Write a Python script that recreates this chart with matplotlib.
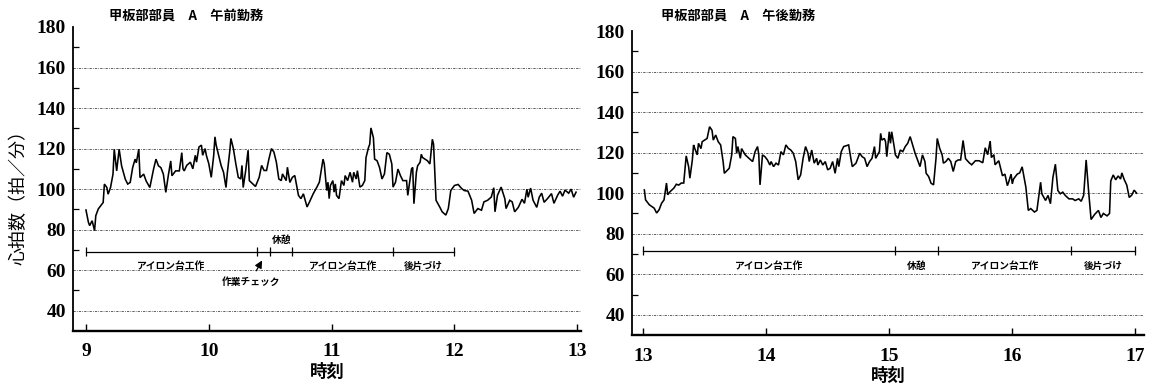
import matplotlib
matplotlib.use("Agg")
import matplotlib.pyplot as plt
from matplotlib.ticker import FixedLocator

plt.rcParams['font.family'] = ['Noto Sans CJK JP', 'DejaVu Sans']

# ---- heart rate, morning shift (hour of day, beats/min) ----
am_time = [9.00, 9.02, 9.03, 9.05, 9.07, 9.08, 9.10, 9.13, 9.14, 9.15, 9.17, 9.18,
           9.20, 9.22, 9.23, 9.25, 9.27, 9.29, 9.32, 9.34, 9.36, 9.38, 9.40, 9.41,
           9.43, 9.44, 9.47, 9.49, 9.52, 9.55, 9.57, 9.59, 9.61, 9.63, 9.65, 9.67,
           9.69, 9.70, 9.73, 9.76, 9.78, 9.79, 9.80, 9.82, 9.85, 9.87, 9.89, 9.90,
           9.92, 9.94, 9.95, 9.97, 9.98, 10.00, 10.02, 10.04, 10.05, 10.06, 10.08, 10.10,
           10.12, 10.14, 10.15, 10.17, 10.18, 10.20, 10.22, 10.24, 10.26, 10.27, 10.28, 10.30,
           10.32, 10.33, 10.36, 10.38, 10.41, 10.43, 10.45, 10.47, 10.49, 10.51, 10.53, 10.55,
           10.57, 10.59, 10.60, 10.63, 10.64, 10.66, 10.68, 10.70, 10.73, 10.75, 10.77, 10.80,
           10.82, 10.85, 10.88, 10.90, 10.93, 10.94, 10.96, 10.97, 10.98, 10.99, 11.01, 11.02,
           11.03, 11.04, 11.06, 11.08, 11.10, 11.11, 11.13, 11.15, 11.17, 11.18, 11.20, 11.21,
           11.23, 11.25, 11.27, 11.28, 11.30, 11.31, 11.32, 11.34, 11.35, 11.37, 11.39, 11.41,
           11.43, 11.45, 11.47, 11.49, 11.50, 11.52, 11.54, 11.56, 11.58, 11.61, 11.62, 11.65,
           11.66, 11.67, 11.69, 11.70, 11.72, 11.73, 11.74, 11.78, 11.80, 11.82, 11.83, 11.84,
           11.85, 11.88, 11.90, 11.93, 11.95, 11.97, 12.00, 12.03, 12.06, 12.08, 12.11, 12.14,
           12.16, 12.19, 12.22, 12.24, 12.27, 12.30, 12.32, 12.33, 12.35, 12.38, 12.41, 12.42,
           12.45, 12.47, 12.49, 12.52, 12.55, 12.57, 12.59, 12.60, 12.62, 12.64, 12.67, 12.69,
           12.71, 12.73, 12.76, 12.79, 12.81, 12.84, 12.86, 12.88, 12.90, 12.93, 12.95, 12.97,
           12.99]
am_rate = [89.7, 83.6, 82.0, 84.4, 79.5, 86.9, 90.2, 92.6, 93.4, 102.5, 100.8, 97.5,
           100.8, 107.4, 119.7, 109.0, 119.7, 111.5, 104.9, 102.5, 103.3, 110.6, 114.8, 113.0,
           119.7, 105.7, 107.4, 104.0, 100.8, 109.8, 114.8, 111.5, 110.6, 107.4, 98.4, 106.6,
           113.9, 106.6, 109.0, 109.0, 118.0, 110.0, 109.0, 111.7, 113.3, 110.0, 116.7, 113.3,
           120.8, 121.7, 116.7, 120.0, 116.7, 112.5, 105.8, 116.7, 125.8, 121.7, 116.7, 111.7,
           108.3, 100.8, 107.5, 118.3, 125.0, 120.0, 112.5, 105.8, 105.0, 111.7, 100.8, 109.0,
           119.2, 104.2, 102.5, 101.3, 105.8, 111.7, 109.2, 109.2, 115.0, 120.0, 118.3, 113.3,
           105.0, 104.2, 107.5, 104.2, 110.8, 103.3, 105.8, 106.7, 96.9, 95.3, 97.7, 91.2,
           93.7, 97.7, 101.0, 103.4, 114.8, 112.4, 99.3, 103.4, 95.3, 101.8, 104.2, 98.5,
           102.6, 96.9, 95.3, 104.2, 101.8, 106.7, 104.2, 108.3, 103.4, 108.3, 105.0, 109.1,
           101.0, 101.8, 104.2, 115.6, 120.5, 122.1, 130.2, 125.4, 114.8, 114.0, 110.7, 105.0,
           107.5, 118.0, 117.2, 112.4, 101.0, 103.4, 109.9, 106.7, 104.2, 104.2, 96.9, 109.9,
           110.7, 92.8, 108.3, 111.5, 113.2, 117.2, 115.6, 114.0, 112.4, 124.6, 122.1, 108.3,
           94.5, 91.2, 88.8, 87.2, 90.4, 99.3, 101.8, 102.3, 100.2, 99.3, 99.0, 94.5,
           88.0, 90.4, 89.6, 93.7, 94.5, 96.1, 100.7, 88.8, 96.9, 101.0, 95.3, 90.4,
           94.5, 93.7, 88.8, 91.0, 95.0, 93.0, 100.0, 96.0, 100.5, 94.5, 91.0, 96.0,
           98.0, 93.5, 95.5, 97.8, 93.0, 97.0, 99.0, 96.5, 99.5, 98.0, 100.0, 96.0,
           98.5]

# ---- heart rate, afternoon shift ----
pm_time = [13.01, 13.02, 13.05, 13.09, 13.11, 13.13, 13.15, 13.17, 13.19, 13.20, 13.22, 13.25,
           13.27, 13.29, 13.31, 13.33, 13.35, 13.37, 13.38, 13.40, 13.41, 13.42, 13.44, 13.45,
           13.47, 13.48, 13.50, 13.52, 13.54, 13.56, 13.57, 13.59, 13.61, 13.63, 13.65, 13.66,
           13.70, 13.72, 13.73, 13.75, 13.76, 13.77, 13.79, 13.80, 13.83, 13.86, 13.89, 13.91,
           13.93, 13.94, 13.95, 13.97, 13.99, 14.01, 14.03, 14.04, 14.06, 14.08, 14.10, 14.12,
           14.14, 14.16, 14.18, 14.20, 14.22, 14.24, 14.26, 14.28, 14.30, 14.32, 14.34, 14.35,
           14.37, 14.39, 14.41, 14.42, 14.44, 14.46, 14.48, 14.50, 14.52, 14.54, 14.56, 14.58,
           14.59, 14.61, 14.63, 14.67, 14.69, 14.70, 14.73, 14.76, 14.78, 14.80, 14.82, 14.84,
           14.86, 14.88, 14.89, 14.92, 14.93, 14.94, 14.96, 14.97, 14.98, 15.00, 15.01, 15.02,
           15.04, 15.05, 15.07, 15.09, 15.11, 15.13, 15.15, 15.17, 15.19, 15.21, 15.23, 15.25,
           15.27, 15.29, 15.30, 15.32, 15.34, 15.36, 15.38, 15.39, 15.41, 15.43, 15.44, 15.46,
           15.48, 15.50, 15.52, 15.54, 15.56, 15.58, 15.60, 15.62, 15.65, 15.67, 15.70, 15.73,
           15.76, 15.78, 15.80, 15.82, 15.83, 15.85, 15.86, 15.89, 15.92, 15.94, 15.96, 15.97,
           15.99, 16.00, 16.01, 16.04, 16.06, 16.08, 16.11, 16.13, 16.15, 16.18, 16.20, 16.23,
           16.24, 16.27, 16.29, 16.31, 16.33, 16.35, 16.37, 16.39, 16.41, 16.43, 16.46, 16.49,
           16.51, 16.54, 16.56, 16.58, 16.60, 16.62, 16.64, 16.67, 16.70, 16.72, 16.74, 16.77,
           16.79, 16.80, 16.82, 16.84, 16.86, 16.88, 16.89, 16.91, 16.93, 16.95, 16.97, 16.99,
           17.01]
pm_rate = [101.6, 96.7, 94.3, 92.6, 90.2, 91.8, 95.0, 96.7, 105.0, 99.2, 100.8, 102.5,
           104.4, 104.0, 105.0, 105.0, 118.4, 113.0, 107.4, 116.4, 123.8, 122.0, 118.9, 124.6,
           122.0, 125.4, 126.2, 127.0, 132.8, 131.0, 126.2, 128.7, 125.4, 123.8, 115.6, 109.8,
           112.3, 118.9, 127.9, 127.0, 119.7, 123.0, 117.2, 122.0, 118.9, 117.2, 115.6, 120.5,
           123.0, 118.9, 104.1, 118.9, 118.0, 116.4, 113.9, 115.6, 113.1, 114.8, 113.9, 120.5,
           118.9, 123.8, 122.1, 121.3, 119.7, 115.6, 106.6, 109.0, 117.2, 123.0, 119.7, 115.6,
           121.3, 114.8, 117.2, 113.9, 116.4, 113.9, 115.6, 111.5, 112.3, 115.6, 109.8, 117.2,
           113.1, 120.5, 123.0, 123.8, 116.4, 113.1, 114.8, 119.7, 118.0, 117.2, 113.1, 115.6,
           117.2, 123.0, 117.2, 120.5, 129.5, 126.2, 127.0, 125.4, 118.0, 130.3, 124.6, 130.3,
           123.0, 118.9, 117.2, 121.3, 120.5, 123.0, 124.6, 127.9, 123.8, 119.7, 116.4, 113.1,
           118.9, 115.6, 109.8, 108.2, 104.9, 104.1, 117.2, 127.0, 122.1, 118.9, 114.8, 115.6,
           117.2, 115.6, 110.7, 115.6, 116.4, 116.4, 126.0, 117.0, 115.0, 114.0, 116.0, 116.0,
           115.0, 122.4, 119.0, 125.7, 117.6, 119.0, 114.0, 116.0, 108.6, 109.4, 103.7, 105.4,
           109.4, 104.6, 107.0, 109.4, 110.0, 113.0, 103.0, 91.5, 92.4, 90.7, 91.5, 105.4,
           99.7, 96.4, 98.9, 94.8, 107.8, 114.3, 101.3, 99.7, 100.5, 98.9, 97.2, 97.2,
           96.4, 97.2, 96.0, 99.0, 116.4, 101.0, 87.0, 89.6, 91.5, 88.0, 90.0, 88.8,
           90.0, 106.0, 109.0, 106.6, 108.5, 107.0, 110.0, 106.6, 104.0, 97.9, 99.0, 101.5,
           100.0]

# ---- work phases (start/end hours) and their names ----
am_bounds = [9.0, 10.39, 10.5, 10.68, 11.5, 12.0]
am_tasks = ["アイロン台工作", "作業チェック", "休憩", "アイロン台工作", "後片づけ"]
pm_bounds = [13.0, 15.05, 15.4, 16.48, 17.0]
pm_tasks = ["アイロン台工作", "休憩", "アイロン台工作", "後片づけ"]

am_hours = [9, 10, 11, 12, 13]
pm_hours = [13, 14, 15, 16, 17]
y_major = [40, 60, 80, 100, 120, 140, 160, 180]
y_minor = [50, 70, 90, 110, 130, 150, 170]

am_title = "甲板部部員　A　午前勤務"
pm_title = "甲板部部員　A　午後勤務"

NUM_FONT = dict(family='Liberation Serif', size=14, weight='bold')
TASK_FONT = dict(fontsize=7, fontweight='bold')

fig = plt.figure(figsize=(11.58, 3.86), dpi=100)
ax_am = fig.add_axes([0.063, 0.1425, 0.4387, 0.7876])
ax_pm = fig.add_axes([0.5458, 0.132, 0.4421, 0.7876])


def draw_panel(ax, t, hr, hours, xlim):
    ax.plot(t, hr, color='black', lw=1.15, solid_joinstyle='miter')
    ax.set_xlim(*xlim)
    ax.set_ylim(30, 180)
    for s in ('top', 'right'):
        ax.spines[s].set_visible(False)
    ax.spines['left'].set_linewidth(1.3)
    ax.spines['bottom'].set_linewidth(1.7)
    ax.xaxis.set_major_locator(FixedLocator(hours))
    ax.yaxis.set_major_locator(FixedLocator(y_major))
    ax.yaxis.set_minor_locator(FixedLocator(y_minor))
    ax.tick_params(axis='x', direction='in', length=5, width=1.0, pad=9)
    ax.tick_params(axis='y', which='major', length=0, pad=5)
    ax.tick_params(axis='y', which='minor', direction='in', length=4, width=0.9)
    ax.set_xticklabels([str(h) for h in hours], **NUM_FONT)
    ax.set_yticklabels([str(v) for v in y_major], **NUM_FONT)
    ax.grid(axis='y', which='major', color='#333333', lw=0.55,
            linestyle=(0, (3, 1.5, 1, 1.5)))
    ax.get_ygridlines()[-1].set_visible(False)
    ax.set_xlabel("時刻", fontsize=12.5, fontweight='bold', labelpad=2)


def draw_phases(ax, bounds, y):
    ax.plot([bounds[0], bounds[-1]], [y, y], color='black', lw=0.9)
    ax.vlines(bounds, y - 2.2, y + 2.2, color='black', lw=0.9)
    return [(a + b) / 2 for a, b in zip(bounds[:-1], bounds[1:])]


draw_panel(ax_am, am_time, am_rate, am_hours, (8.894, 13.03))
draw_panel(ax_pm, pm_time, pm_rate, pm_hours, (12.91, 17.07))

# morning phases
mids = draw_phases(ax_am, am_bounds, 69)
for name, m in zip(am_tasks, mids):
    if name == "作業チェック":
        ax_am.annotate("", xy=(m, 66), xytext=(m - 0.07, 58.5),
                       arrowprops=dict(arrowstyle='-|>', color='black', lw=0.9,
                                       mutation_scale=11))
        ax_am.text(m - 0.1, 54, name, ha='center', va='center', **TASK_FONT)
    elif name == "休憩":
        ax_am.text(m, 74.8, name, ha='center', va='center', **TASK_FONT)
    else:
        ax_am.text(m, 62.3, name, ha='center', va='center', **TASK_FONT)

# afternoon phases
mids = draw_phases(ax_pm, pm_bounds, 71.5)
for name, m in zip(pm_tasks, mids):
    ax_pm.text(m, 64, name, ha='center', va='center', **TASK_FONT)

fig.text(109 / 1158, 1 - 16 / 386, am_title, fontsize=9.5, fontweight='bold',
         ha='left', va='center')
fig.text(661 / 1158, 1 - 16 / 386, pm_title, fontsize=9.5, fontweight='bold',
         ha='left', va='center')
fig.text(19 / 1158, 1 - 193 / 386, "心拍数（拍／分）", rotation=90, fontsize=13,
         ha='center', va='center')

fig.savefig("out.png", dpi=100, facecolor='white')
